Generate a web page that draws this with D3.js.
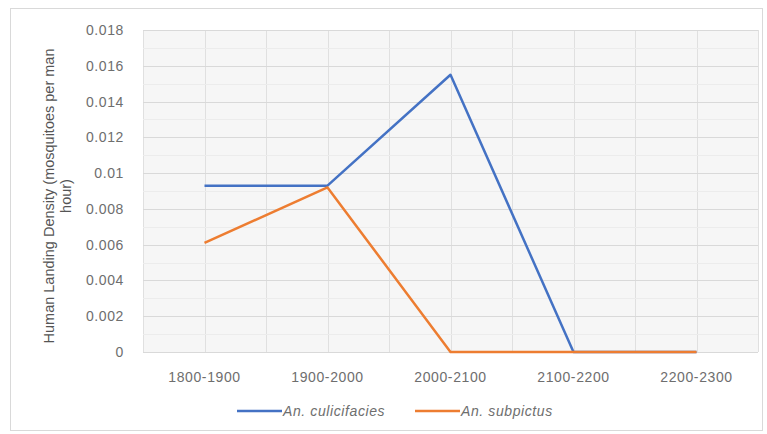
<!DOCTYPE html>
<html><head><meta charset="utf-8">
<script src="https://cdn.jsdelivr.net/npm/d3@7"></script>
<style>body{margin:0;background:#fff}</style>
</head><body>
<svg id="c" width="767" height="434"></svg>
<script>
const categories = ["1800-1900","1900-2000","2000-2100","2100-2200","2200-2300"];
const culicifacies = [0.0093, 0.0093, 0.0155, 0, 0];
const subpictus = [0.0061, 0.0092, 0, 0, 0];
const yTicks = [0,0.002,0.004,0.006,0.008,0.01,0.012,0.014,0.016,0.018];
const yTickLabels = ["0","0.002","0.004","0.006","0.008","0.01","0.012","0.014","0.016","0.018"];
const seriesNames = ["An. culicifacies","An. subpictus"];
const colors = ["#4472C4","#ED7D31"];

const svg = d3.select("#c");
const font = "'Liberation Sans', Arial, sans-serif";
svg.append("rect").attr("x",10.5).attr("y",8.5).attr("width",752).attr("height",422)
  .attr("fill","#fff").attr("stroke","#d9d9d9");

const L=143, R=758, T=30, B=352;
const x = d3.scaleBand().domain(categories).range([L,R]);
const y = d3.scaleLinear().domain([0,0.018]).range([B,T]);

svg.append("rect").attr("x",L).attr("y",T).attr("width",R-L).attr("height",B-T).attr("fill","#f6f6f6");
const g = svg.append("g");
const vx = [];
categories.forEach(c=>{vx.push(x(c)); vx.push(x(c)+x.bandwidth()/2);});
vx.push(R);
g.selectAll("line.v").data(vx).join("line").attr("x1",d=>Math.round(d)+0.5).attr("x2",d=>Math.round(d)+0.5)
  .attr("y1",T).attr("y2",B).attr("stroke","#e0e0e0").attr("stroke-width",1);
const minor = d3.range(0.001,0.018,0.002);
g.selectAll("line.m").data(minor).join("line").attr("x1",L).attr("x2",R)
  .attr("y1",d=>Math.round(y(d))+0.5).attr("y2",d=>Math.round(y(d))+0.5).attr("stroke","#ececec");
g.selectAll("line.h").data(yTicks).join("line").attr("x1",L).attr("x2",R)
  .attr("y1",d=>Math.round(y(d))+0.5).attr("y2",d=>Math.round(y(d))+0.5).attr("stroke","#d9d9d9");

// y axis
const ya = svg.append("g").attr("transform",`translate(${L-16},0)`)
  .call(d3.axisLeft(y).tickValues(yTicks).tickFormat((d,i)=>yTickLabels[i]).tickSize(0));
ya.select(".domain").remove();
ya.selectAll("text").attr("font-family",font).attr("font-size",14).attr("letter-spacing","0.6px").attr("fill","#6e6e6e");

// x axis
const xa = svg.append("g").attr("transform",`translate(0,${B+17})`)
  .call(d3.axisBottom(x).tickSize(0));
xa.select(".domain").remove();
xa.selectAll("text").attr("font-family",font).attr("font-size",14).attr("letter-spacing","0.6px").attr("fill","#6e6e6e");

// axis title
const at = svg.append("text").attr("transform","translate(54,196) rotate(-90)")
  .attr("text-anchor","middle").attr("font-family",font).attr("font-size",14.5).attr("fill","#555");
at.append("tspan").attr("x",0).attr("dy",0).text("Human Landing Density (mosquitoes per man");
at.append("tspan").attr("x",0).attr("dy",17).text("hour)");

// lines
const line = d3.line().x((d,i)=>x(categories[i])+x.bandwidth()/2).y(d=>y(d));
[culicifacies, subpictus].forEach((s,k)=>{
  svg.append("path").datum(s).attr("d",line).attr("fill","none")
    .attr("stroke",colors[k]).attr("stroke-width",2.5).attr("stroke-linejoin","round");
});

// legend
const leg = [{x:237,name:seriesNames[0],c:colors[0]},{x:415,name:seriesNames[1],c:colors[1]}];
leg.forEach(l=>{
  svg.append("line").attr("x1",l.x).attr("x2",l.x+45).attr("y1",411).attr("y2",411)
    .attr("stroke",l.c).attr("stroke-width",2.5);
  svg.append("text").attr("x",l.x+46).attr("y",416).attr("font-family",font).attr("font-size",14)
    .attr("font-style","italic").attr("letter-spacing","0.6px").attr("fill","#6e6e6e").text(l.name);
});
</script>
</body></html>
